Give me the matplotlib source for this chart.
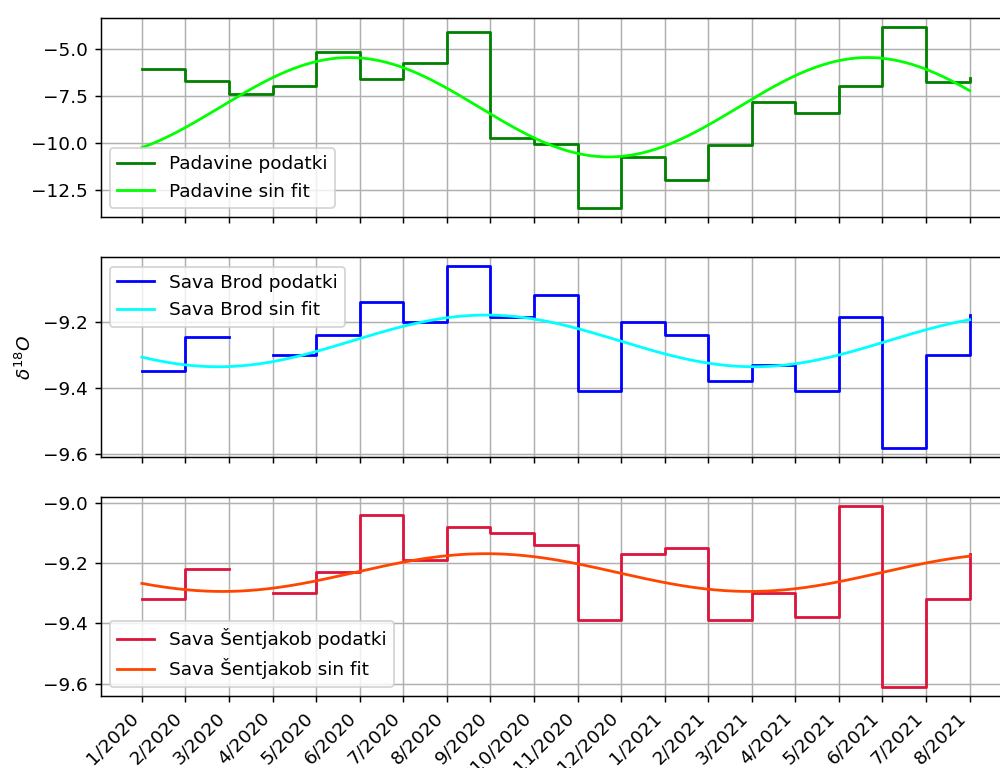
import numpy as np
import matplotlib
matplotlib.use("Agg")
import matplotlib.pyplot as plt

# monthly sampling, Jan 2020 - Aug 2021
months = ["1/2020", "2/2020", "3/2020", "4/2020", "5/2020", "6/2020", "7/2020",
          "8/2020", "9/2020", "10/2020", "11/2020", "12/2020", "1/2021", "2/2021",
          "3/2021", "4/2021", "5/2021", "6/2021", "7/2021", "8/2021"]

padavine = [-6.05, -6.70, -7.40, -6.95, -5.14, -6.62, -5.77, -4.09, -9.72, -10.07,
            -13.47, -10.76, -11.99, -10.12, -7.80, -8.38, -6.97, -3.84, -6.74, -6.57]
brod = [-9.35, -9.245, np.nan, -9.30, -9.24, -9.14, -9.20, -9.033, -9.185, -9.12,
        -9.41, -9.20, -9.24, -9.38, -9.33, -9.41, -9.185, -9.58, -9.30, -9.18]
sentjakob = [-9.32, -9.22, np.nan, -9.30, -9.23, -9.04, -9.19, -9.08, -9.10, -9.14,
             -9.39, -9.17, -9.15, -9.39, -9.30, -9.38, -9.01, -9.61, -9.32, -9.17]

# sine fit parameters: offset, amplitude, period [months], month of maximum
fit_padavine = (-8.10, 2.64, 11.9, 4.77)
fit_brod = (-9.258, 0.078, 12.3, 7.9)
fit_sentjakob = (-9.2315, 0.0625, 12.1, 7.9)


def sinfit(t, p):
    off, amp, per, tmax = p
    return off + amp*np.cos(2*np.pi*(t - tmax)/per)


x = np.arange(len(months))
t = np.linspace(0, len(months) - 1, 400)

fig, axs = plt.subplots(3, 1, sharex=True, figsize=(7.5, 5.76))
fig.subplots_adjust(left=0.1005, right=1.011, top=0.9766, bottom=0.09375, hspace=0.2)

series = [
    (padavine, fit_padavine, "Padavine", "green", "lime", "lower left"),
    (brod, fit_brod, "Sava Brod", "blue", "cyan", "upper left"),
    (sentjakob, fit_sentjakob, "Sava Šentjakob", "crimson", "orangered", "lower left"),
]

for ax, (y, fit, name, c1, c2, loc) in zip(axs, series):
    ax.step(x, y, where="post", color=c1, label=name + " podatki")
    ax.plot(t, sinfit(t, fit), color=c2, label=name + " sin fit")
    ax.grid(True)
    ax.legend(loc=loc)

axs[1].set_ylabel(r"$\delta^{18}O$")
axs[2].set_xticks(x)
axs[2].set_xticklabels(months, rotation=45, ha="right")

fig.savefig("out.png", dpi=400/3)
